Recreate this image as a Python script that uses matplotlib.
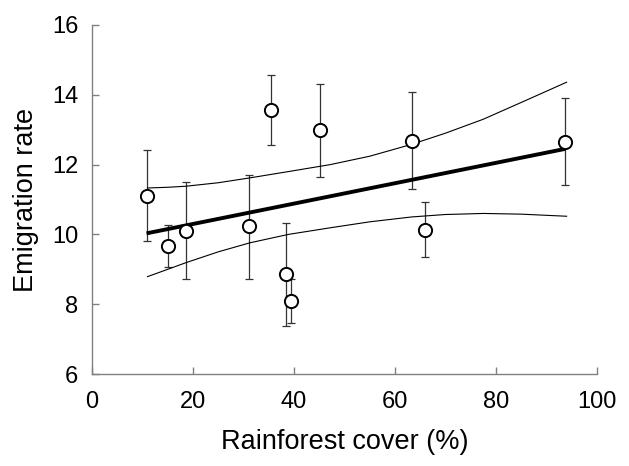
import numpy as np
import matplotlib.pyplot as plt

plt.rcParams['font.family'] = ['Liberation Sans', 'DejaVu Sans']

# site values
cover = [10.8, 15.1, 18.6, 31.1, 35.5, 45.1, 38.5, 39.5, 63.3, 66.0, 93.7]
rate = [11.11, 9.67, 10.11, 10.24, 13.57, 12.99, 8.86, 8.09, 12.69, 10.14, 12.66]
err_hi = [12.43, 10.27, 11.49, 11.71, 14.58, 14.31, 10.32, 8.71, 14.07, 10.92, 13.92]
err_lo = [9.81, 9.08, 8.73, 8.73, 12.56, 11.65, 7.37, 7.46, 11.31, 9.35, 11.41]

# fitted line and its confidence band
fit_x = [10.8, 93.7]
fit_y = [10.03, 12.45]
band_x = [11.0, 15.0, 18.6, 25.0, 31.3, 38.9, 47.2, 55.0, 63.3, 70.0, 77.5, 85.0, 94.0]
upper = [11.33, 11.35, 11.38, 11.48, 11.62, 11.80, 12.00, 12.24, 12.58, 12.90, 13.30, 13.78, 14.36]
lower = [8.79, 9.00, 9.19, 9.50, 9.76, 10.00, 10.19, 10.36, 10.50, 10.57, 10.60, 10.58, 10.52]

rate = np.array(rate)
yerr = [rate - np.array(err_lo), np.array(err_hi) - rate]

fig = plt.figure(figsize=(6.29, 4.66), dpi=100)
ax = fig.add_axes([0.1463, 0.1974, 0.8027, 0.749])

ax.errorbar(cover, rate, yerr=yerr, fmt='none', ecolor='#333333',
            elinewidth=0.9, capsize=3, capthick=0.9, zorder=1)
ax.plot(band_x, upper, color='black', lw=0.8, zorder=2)
ax.plot(band_x, lower, color='black', lw=0.8, zorder=2)
ax.plot(fit_x, fit_y, color='black', lw=2.8, zorder=3, solid_capstyle='butt')
ax.plot(cover, rate, 'o', ms=9.5, mfc='white', mec='black', mew=1.4, zorder=4)

ax.set_xlim(0, 100)
ax.set_ylim(6, 16)
ax.set_xticks(range(0, 101, 20))
ax.set_yticks(range(6, 17, 2))
ax.set_xlabel('Rainforest cover (%)', fontsize=19.5, labelpad=12)
ax.set_ylabel('Emigration rate', fontsize=19.5, labelpad=9)

for s in ['top', 'right']:
    ax.spines[s].set_visible(False)
for s in ['left', 'bottom']:
    ax.spines[s].set_color('#808080')
    ax.spines[s].set_linewidth(1.0)
ax.tick_params(direction='in', length=5, width=1, color='#808080',
               labelsize=17)
ax.tick_params(axis='y', pad=10)
ax.tick_params(axis='x', pad=12)

fig.savefig('out.png', dpi=100)
